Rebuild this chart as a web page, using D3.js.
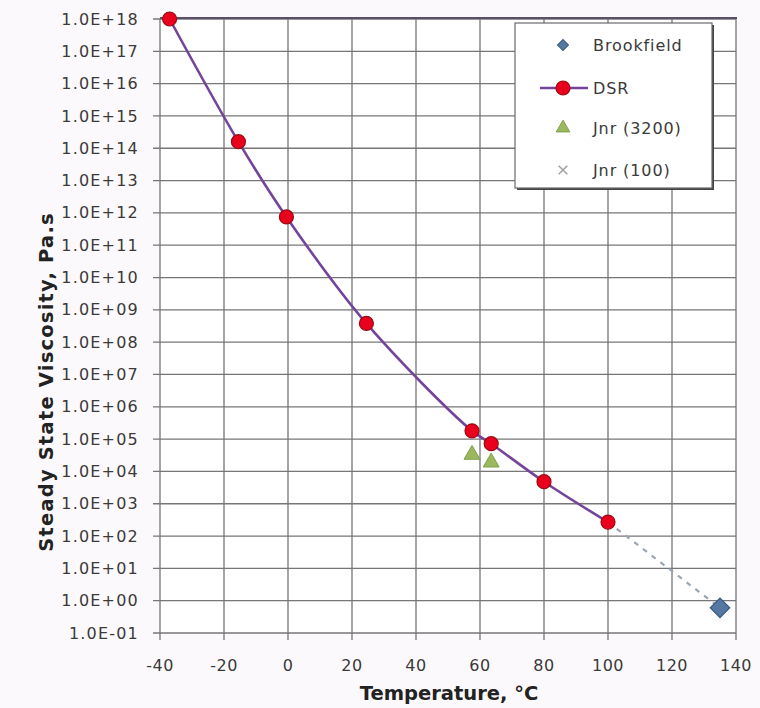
<!DOCTYPE html>
<html>
<head>
<meta charset="utf-8">
<script src="https://cdn.jsdelivr.net/npm/d3@7"></script>
<style>
  body { margin: 0; background: #fcf9fc; }
  svg { display: block; font-family: "DejaVu Sans", sans-serif; }
</style>
</head>
<body>
<svg id="chart" width="760" height="708"></svg>
<script>
// datos
var dsrTemp = [-37, -15.5, -0.5, 24.5, 57.5, 63.5, 80, 100];
var dsrVisc = [1e18, 1.6e14, 7.5e11, 3.8e8, 1.8e5, 7.2e4, 4.8e3, 2.7e2];
var brookTemp = [135];
var brookVisc = [0.6];
var jnr3200Temp = [57.5, 63.5];
var jnr3200Visc = [3.3e4, 1.9e4];
var jnr100Temp = [];
var jnr100Visc = [];
var trendTemp = [100, 135];
var trendVisc = [2.7e2, 0.6];
var xTicks = [-40, -20, 0, 20, 40, 60, 80, 100, 120, 140];
var yExps = d3.range(-1, 19);
var legendNames = ["Brookfield", "DSR", "Jnr (3200)", "Jnr (100)"];

// ojo: "top" choca con window.top
var plotL = 160, plotR = 736, plotT = 19, plotB = 633;

var svg = d3.select("#chart");

var x = d3.scaleLinear().domain([-40, 140]).range([plotL, plotR]);
var y = d3.scaleLog().domain([0.1, 1e18]).range([plotB, plotT]);

function pts(t, v) {
    return t.map(function(d, i) { return {t: d, v: v[i]}; });
}

function fmt(e) {
    var a = Math.abs(e);
    return "1.0E" + (e < 0 ? "-" : "+") + (a < 10 ? "0" + a : a);
}

// area del grafico
svg.append("rect")
    .attr("x", plotL).attr("y", plotT)
    .attr("width", plotR - plotL).attr("height", plotB - plotT)
    .attr("fill", "#fff");

// rejilla vertical + ticks
svg.append("g").selectAll("line")
    .data(xTicks).enter().append("line")
    .attr("x1", function(d) { return x(d); })
    .attr("x2", function(d) { return x(d); })
    .attr("y1", plotT).attr("y2", plotB + 7)
    .attr("stroke", "#767676").attr("stroke-width", 1.3);

// rejilla horizontal + ticks
svg.append("g").selectAll("line")
    .data(yExps).enter().append("line")
    .attr("x1", plotL - 7).attr("x2", plotR)
    .attr("y1", function(d) { return y(Math.pow(10, d)); })
    .attr("y2", function(d) { return y(Math.pow(10, d)); })
    .attr("stroke", "#767676").attr("stroke-width", 1.3);

// borde superior
svg.append("line")
    .attr("x1", plotL).attr("x2", plotR + 1)
    .attr("y1", plotT - 1).attr("y2", plotT - 1)
    .attr("stroke", "#5b4f66").attr("stroke-width", 2);

// etiquetas
svg.append("g").selectAll("text")
    .data(yExps).enter().append("text")
    .attr("x", 139)
    .attr("y", function(d) { return y(Math.pow(10, d)); })
    .attr("dy", "0.35em")
    .attr("text-anchor", "end")
    .attr("font-size", 16)
    .attr("letter-spacing", 1.2)
    .attr("fill", "#3a3a3a")
    .text(fmt);

svg.append("g").selectAll("text")
    .data(xTicks).enter().append("text")
    .attr("x", function(d) { return x(d); })
    .attr("y", 671)
    .attr("text-anchor", "middle")
    .attr("font-size", 16)
    .attr("letter-spacing", 0.5)
    .attr("fill", "#3a3a3a")
    .text(function(d) { return d; });

svg.append("text")
    .attr("x", 449).attr("y", 700)
    .attr("text-anchor", "middle")
    .attr("font-size", 19.5).attr("font-weight", "bold")
    .attr("fill", "#222")
    .text("Temperature, °C");

svg.append("text")
    .attr("transform", "translate(53,382) rotate(-90)")
    .attr("text-anchor", "middle")
    .attr("font-size", 19.5).attr("font-weight", "bold")
    .attr("letter-spacing", 1.2)
    .attr("fill", "#222")
    .text("Steady State Viscosity, Pa.s");

// linea punteada Brookfield
var line = d3.line()
    .x(function(d) { return x(d.t); })
    .y(function(d) { return y(d.v); });

svg.append("path")
    .datum(pts(trendTemp, trendVisc))
    .attr("d", line)
    .attr("fill", "none")
    .attr("stroke", "#9aa6b4").attr("stroke-width", 2.2)
    .attr("stroke-dasharray", "5,6");

// DSR
svg.append("path")
    .datum(pts(dsrTemp, dsrVisc))
    .attr("d", line.curve(d3.curveCatmullRom))
    .attr("fill", "none")
    .attr("stroke", "#74449a").attr("stroke-width", 2.6);

svg.append("g").selectAll("circle")
    .data(pts(dsrTemp, dsrVisc)).enter().append("circle")
    .attr("cx", function(d) { return x(d.t); })
    .attr("cy", function(d) { return y(d.v); })
    .attr("r", 7)
    .attr("fill", "#e8001c").attr("stroke", "#9c0a14").attr("stroke-width", 1.2);

var tri = d3.symbol().type(d3.symbolTriangle).size(110);
var sq = d3.symbol().type(d3.symbolSquare).size(190);
var cross = d3.symbol().type(d3.symbolX).size(60);

svg.append("g").selectAll("path")
    .data(pts(jnr3200Temp, jnr3200Visc)).enter().append("path")
    .attr("transform", function(d) { return "translate(" + x(d.t) + "," + y(d.v) + ")"; })
    .attr("d", tri)
    .attr("fill", "#9bb85e").attr("stroke", "#7fa04a");

svg.append("g").selectAll("path")
    .data(pts(jnr100Temp, jnr100Visc)).enter().append("path")
    .attr("transform", function(d) { return "translate(" + x(d.t) + "," + y(d.v) + ")"; })
    .attr("d", cross)
    .attr("fill", "none").attr("stroke", "#a0a0a0").attr("stroke-width", 1.5);

svg.append("g").selectAll("path")
    .data(pts(brookTemp, brookVisc)).enter().append("path")
    .attr("transform", function(d) { return "translate(" + x(d.t) + "," + y(d.v) + ") rotate(45)"; })
    .attr("d", sq)
    .attr("fill", "#5478a0").attr("stroke", "#3b5a80").attr("stroke-width", 1.2);

// leyenda
var lg = svg.append("g").attr("transform", "translate(515,23)");
lg.append("rect")
    .attr("x", 2).attr("y", 2).attr("width", 197).attr("height", 165)
    .attr("fill", "#444");
lg.append("rect")
    .attr("width", 197).attr("height", 165)
    .attr("fill", "#fff").attr("stroke", "#6a6a6a").attr("stroke-width", 1.2);

var rowY = [22, 65, 105, 147];
lg.selectAll("text")
    .data(legendNames).enter().append("text")
    .attr("x", 78)
    .attr("y", function(d, i) { return rowY[i]; })
    .attr("dy", "0.35em")
    .attr("font-size", 16)
    .attr("letter-spacing", 0.9)
    .attr("fill", "#3a3a3a")
    .text(function(d) { return d; });

lg.append("path").attr("transform", "translate(48," + rowY[0] + ") rotate(45)")
    .attr("d", d3.symbol().type(d3.symbolSquare).size(60))
    .attr("fill", "#5478a0").attr("stroke", "#3b5a80");
lg.append("line")
    .attr("x1", 25).attr("x2", 73).attr("y1", rowY[1]).attr("y2", rowY[1])
    .attr("stroke", "#74449a").attr("stroke-width", 2.6);
lg.append("circle").attr("cx", 48).attr("cy", rowY[1]).attr("r", 7)
    .attr("fill", "#e8001c").attr("stroke", "#9c0a14").attr("stroke-width", 1.2);
lg.append("path").attr("transform", "translate(48," + rowY[2] + ")")
    .attr("d", d3.symbol().type(d3.symbolTriangle).size(80))
    .attr("fill", "#9bb85e").attr("stroke", "#7fa04a");
lg.append("path").attr("transform", "translate(48," + rowY[3] + ")")
    .attr("d", d3.symbol().type(d3.symbolX).size(50))
    .attr("fill", "none").attr("stroke", "#a0a0a0").attr("stroke-width", 1.5);
</script>
</body>
</html>
